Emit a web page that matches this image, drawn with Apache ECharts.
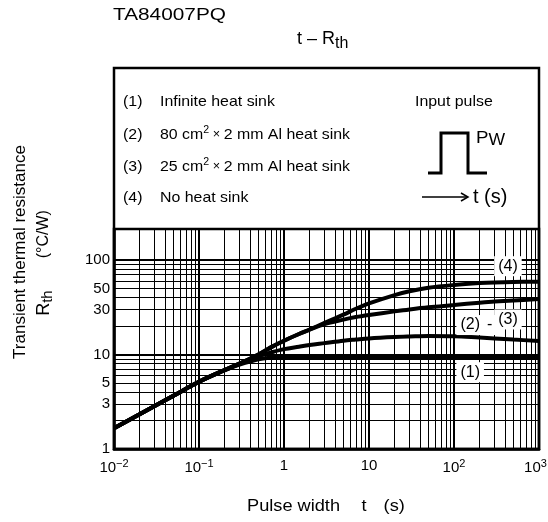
<!DOCTYPE html>
<html>
<head>
<meta charset="utf-8">
<script src="https://cdn.jsdelivr.net/npm/echarts@6.0.0/dist/echarts.min.js"></script>
<style>html,body{margin:0;padding:0;background:#fff;}#c{width:548px;height:522px;}</style>
</head>
<body>
<div id="c"></div>
<script>
// ---- data ----
var pulseWidth = [0.01, 0.02, 0.05, 0.1, 0.2, 0.3, 0.5, 0.7, 1, 1.5, 2, 3, 5, 7, 10, 20, 30, 50, 100, 200, 300, 500, 1000];
var rthInfinite = [1.66, 2.33, 3.66, 5.15, 6.8, 7.8, 8.9, 9.25, 9.4, 9.4, 9.4, 9.4, 9.4, 9.4, 9.4, 9.4, 9.4, 9.4, 9.4, 9.4, 9.4, 9.4, 9.4];
var rth80cm = [1.66, 2.33, 3.66, 5.15, 6.85, 8.0, 9.6, 10.5, 11.4, 12.1, 12.6, 13.2, 14.0, 14.4, 14.8, 15.3, 15.5, 15.7, 15.6, 15.1, 14.8, 14.4, 13.9];
var rth25cm = [1.66, 2.33, 3.66, 5.15, 6.85, 8.0, 10.0, 11.9, 14.0, 16.5, 18.3, 21.0, 23.4, 24.9, 26.2, 28.6, 30.0, 31.6, 33.4, 35.4, 36.3, 37.3, 38.7];
var rthNoSink = [1.66, 2.33, 3.66, 5.15, 6.85, 8.0, 10.0, 11.9, 14.0, 16.5, 18.4, 21.6, 26.4, 30.5, 34.8, 42.6, 46.8, 50.9, 54.4, 57.0, 58.0, 58.7, 59.0];

var xTickValues = [0.01, 0.1, 1, 10, 100, 1000];
var xTickLabels = ['{b|10}{s|\u22122}', '{b|10}{s|\u22121}', '1', '10', '{b|10}{s|2}', '{b|10}{s|3}{p|}'];
var yTickValues = [1, 3, 5, 10, 30, 50, 100];
var yTickLabels = ['1', '3', '5', '10', '30', '50', '100'];

var decades = [0.01, 0.1, 1, 10, 100];
var multipliers = [2, 3, 4, 5, 6, 7, 8, 9];
var yDecades = [1, 10];
var xMajorLines = [0.1, 1, 10, 100];
var yMajorLines = [10, 100];

var curveLabelText = ['(4)', '(2)', '-', '(3)', '(1)'];
var curveLabelX = [431, 155, 262, 431, 155];
var curveLabelY = [86, 20.5, 20.5, 23.5, 6.5];

// ---- build ----
function pairs(xs, ys) { return xs.map(function (x, i) { return [x, ys[i]]; }); }
var gridLines = [];
decades.forEach(function (d) { multipliers.forEach(function (m) { gridLines.push({ xAxis: +(d * m).toPrecision(6) }); }); });
yDecades.forEach(function (d) { multipliers.forEach(function (m) { gridLines.push({ yAxis: +(d * m).toPrecision(6) }); }); });
xMajorLines.forEach(function (v) { gridLines.push({ xAxis: v, lineStyle: { width: 2 } }); });
yMajorLines.forEach(function (v) { gridLines.push({ yAxis: v, lineStyle: { width: 2 } }); });

function labelOf(values, labels) {
  return function (v) {
    for (var i = 0; i < values.length; i++) { if (Math.abs(values[i] - v) / values[i] < 1e-6) return labels[i]; }
    return '';
  };
}

var FONT = 'Liberation Sans, Arial, Helvetica, sans-serif';
var curveStyle = { color: '#000', width: 4 };
function curve(name, ys) {
  return { name: name, type: 'line', data: pairs(pulseWidth, ys), smooth: 0.35, showSymbol: false, symbol: 'none',
    lineStyle: curveStyle, itemStyle: { color: '#000' }, z: 5, silent: true };
}

var chart = echarts.init(document.getElementById('c'), null, { renderer: 'canvas' });
var option = {
  animation: false,
  backgroundColor: '#fff',
  textStyle: { fontFamily: FONT, color: '#000' },
  grid: { left: 114, right: 9, top: 229, bottom: 73, show: true, borderColor: '#000', borderWidth: 2.5, containLabel: false, outerBoundsMode: 'none' },
  xAxis: {
    type: 'log', logBase: 10, min: 0.01, max: 1000,
    axisLine: { show: true, onZero: false, lineStyle: { color: '#000', width: 2.5 } },
    axisTick: { show: false }, splitLine: { show: false }, minorTick: { show: false }, minorSplitLine: { show: false },
    axisLabel: { customValues: xTickValues, formatter: labelOf(xTickValues, xTickLabels), margin: 9, color: '#000', fontSize: 15,
      fontFamily: FONT, showMinLabel: true, showMaxLabel: true,
      rich: { b: { fontSize: 15, fontFamily: FONT, color: '#000' }, s: { fontSize: 11, fontFamily: FONT, color: '#000', padding: [0, 0, 9, 0] },
        p: { width: 7 } } }
  },
  yAxis: {
    type: 'log', logBase: 10, min: 1, max: 213,
    axisLine: { show: true, onZero: false, lineStyle: { color: '#000', width: 2.5 } },
    axisTick: { show: false }, splitLine: { show: false }, minorTick: { show: false }, minorSplitLine: { show: false },
    axisLabel: { customValues: yTickValues, formatter: labelOf(yTickValues, yTickLabels), margin: 4, color: '#000', fontSize: 15,
      fontFamily: FONT, showMinLabel: true, showMaxLabel: true }
  },
  series: [
    { type: 'line', data: [], silent: true, z: 1,
      markLine: { silent: true, symbol: ['none', 'none'], animation: false, label: { show: false },
        lineStyle: { color: '#000', width: 1, type: 'solid', opacity: 1 }, emphasis: { disabled: true }, data: gridLines } },
    curve('(1)', rthInfinite),
    curve('(2)', rth80cm),
    curve('(3)', rth25cm),
    curve('(4)', rthNoSink),
    { type: 'scatter', silent: true, z: 10, symbolSize: 1, itemStyle: { color: 'rgba(0,0,0,0)' },
      data: curveLabelText.map(function (t, i) { return { value: [curveLabelX[i], curveLabelY[i]], name: t }; }),
      label: { show: true, position: 'inside', formatter: '{b}', color: '#000', opacity: 1, textBorderWidth: 0, textBorderColor: 'transparent',
        fontSize: 16, fontFamily: FONT, backgroundColor: '#fff', padding: [2, 4, 2, 4] } }
  ],
  graphic: [
    { type: 'rect', z: 100, silent: true, shape: { x: 114, y: 68, width: 425, height: 381 },
      style: { fill: 'none', stroke: '#000', lineWidth: 2.5 } },
    { type: 'text', x: 113, y: 16, scaleX: 1.3, silent: true,
      style: { text: 'TA84007PQ', fontSize: 16, fontFamily: FONT, fill: '#000', textAlign: 'left', textVerticalAlign: 'middle' } },
    { type: 'text', x: 297, y: 39, silent: true,
      style: { text: '{a|t \u2013 R}{b|th}', fontFamily: FONT, fill: '#000', textAlign: 'left', textVerticalAlign: 'middle',
        rich: { a: { fontSize: 18, fontFamily: FONT }, b: { fontSize: 16, fontFamily: FONT, padding: [9, 0, 0, 0] } } } },
    // legend rows
    { type: 'text', x: 123, y: 102, scaleX: 1.06, silent: true, style: { text: '(1)', fontSize: 15, fontFamily: FONT, fill: '#000', textVerticalAlign: 'middle' } },
    { type: 'text', x: 160, y: 102, scaleX: 1.06, silent: true, style: { text: 'Infinite heat sink', fontSize: 15, fontFamily: FONT, fill: '#000', textVerticalAlign: 'middle' } },
    { type: 'text', x: 123, y: 135, scaleX: 1.06, silent: true, style: { text: '(2)', fontSize: 15, fontFamily: FONT, fill: '#000', textVerticalAlign: 'middle' } },
    { type: 'text', x: 160, y: 135, scaleX: 1.06, silent: true, style: { text: '{t|80 cm}{sup|2}{x| \u00d7 }{t|2 mm Al heat sink}', fontFamily: FONT, fill: '#000', textVerticalAlign: 'middle',
        rich: { t: { fontSize: 15, fontFamily: FONT }, sup: { fontSize: 10, fontFamily: FONT, padding: [0, 0, 9, 0] }, x: { fontSize: 12, fontFamily: FONT } } } },
    { type: 'text', x: 123, y: 167, scaleX: 1.06, silent: true, style: { text: '(3)', fontSize: 15, fontFamily: FONT, fill: '#000', textVerticalAlign: 'middle' } },
    { type: 'text', x: 160, y: 167, scaleX: 1.06, silent: true, style: { text: '{t|25 cm}{sup|2}{x| \u00d7 }{t|2 mm Al heat sink}', fontFamily: FONT, fill: '#000', textVerticalAlign: 'middle',
        rich: { t: { fontSize: 15, fontFamily: FONT }, sup: { fontSize: 10, fontFamily: FONT, padding: [0, 0, 9, 0] }, x: { fontSize: 12, fontFamily: FONT } } } },
    { type: 'text', x: 123, y: 198, scaleX: 1.06, silent: true, style: { text: '(4)', fontSize: 15, fontFamily: FONT, fill: '#000', textVerticalAlign: 'middle' } },
    { type: 'text', x: 160, y: 198, scaleX: 1.06, silent: true, style: { text: 'No heat sink', fontSize: 15, fontFamily: FONT, fill: '#000', textVerticalAlign: 'middle' } },
    { type: 'text', x: 415, y: 102, scaleX: 1.06, silent: true, style: { text: 'Input pulse', fontSize: 15, fontFamily: FONT, fill: '#000', textVerticalAlign: 'middle' } },
    // pulse symbol
    { type: 'polyline', silent: true, shape: { points: [[428, 173], [441, 173], [441, 133], [468, 133], [468, 173], [487, 173]] },
      style: { fill: 'none', stroke: '#000', lineWidth: 3 } },
    { type: 'text', x: 476, y: 138, silent: true, scaleX: 1.1,
      style: { text: '{p|P}{w|W}', fontFamily: FONT, fill: '#000', textVerticalAlign: 'middle',
        rich: { p: { fontSize: 17, fontFamily: FONT }, w: { fontSize: 16, fontFamily: FONT, padding: [6, 0, 0, 0] } } } },
    { type: 'line', silent: true, shape: { x1: 422, y1: 197, x2: 467, y2: 197 }, style: { stroke: '#000', lineWidth: 1.5 } },
    { type: 'polyline', silent: true, shape: { points: [[461, 193], [468, 197], [461, 201]] }, style: { fill: 'none', stroke: '#000', lineWidth: 1.5 } },
    { type: 'text', x: 473, y: 197, silent: true,
      style: { text: 't (s)', fontSize: 20, fontFamily: FONT, fill: '#000', textVerticalAlign: 'middle' } },
    // axis names
    { type: 'text', x: 20, y: 252, rotation: Math.PI / 2, silent: true,
      style: { text: 'Transient thermal resistance', fontSize: 17, fontFamily: FONT, fill: '#000', textAlign: 'center', textVerticalAlign: 'middle' } },
    { type: 'text', x: 44, y: 263, rotation: Math.PI / 2, silent: true,
      style: { text: '{r|R}{s|th}{g| }{n|(\u00b0C/W)}', fontFamily: FONT, fill: '#000', textAlign: 'center', textVerticalAlign: 'middle',
        rich: { r: { fontSize: 18, fontFamily: FONT }, s: { fontSize: 15, fontFamily: FONT, padding: [7, 0, 0, 0] }, g: { width: 32, fontSize: 16 }, n: { fontSize: 16, fontFamily: FONT } } } },
    { type: 'text', x: 247, y: 506, scaleX: 1.07, silent: true,
      style: { text: '{a|Pulse width}{g1| }{a|t}{g2| }{a|(s)}', fontFamily: FONT, fill: '#000', textAlign: 'left', textVerticalAlign: 'middle',
        rich: { a: { fontSize: 17, fontFamily: FONT }, g1: { width: 20, fontSize: 17 }, g2: { width: 16, fontSize: 17 } } } }
  ]
};
chart.setOption(option);
</script>
</body>
</html>
